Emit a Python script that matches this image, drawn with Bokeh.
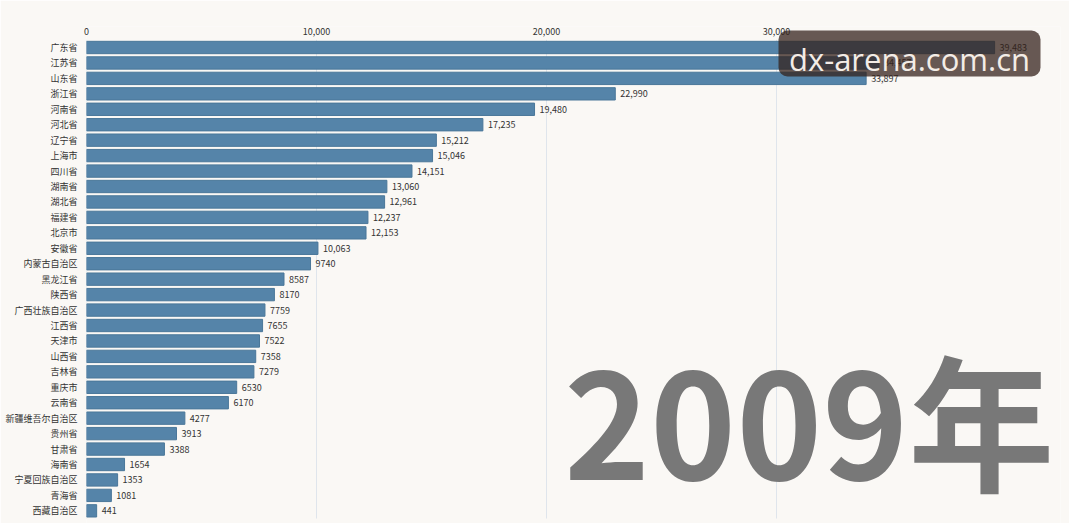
from bokeh.plotting import figure
from bokeh.models import (ColumnDataSource, Range1d, FixedTicker, Label,
                          NumeralTickFormatter, BoxAnnotation)
from bokeh.core.properties import value
from bokeh.embed import file_html
from bokeh.resources import INLINE

# 2009 GDP by province (亿元), largest first
provinces = ["广东省", "江苏省", "山东省", "浙江省", "河南省", "河北省", "辽宁省",
             "上海市", "四川省", "湖南省", "湖北省", "福建省", "北京市", "安徽省",
             "内蒙古自治区", "黑龙江省", "陕西省", "广西壮族自治区", "江西省",
             "天津市", "山西省", "吉林省", "重庆市", "云南省", "新疆维吾尔自治区",
             "贵州省", "甘肃省", "海南省", "宁夏回族自治区", "青海省", "西藏自治区"]
gdp = [39483, 34457, 33897, 22990, 19480, 17235, 15212,
       15046, 14151, 13060, 12961, 12237, 12153, 10063,
       9740, 8587, 8170, 7759, 7655,
       7522, 7358, 7279, 6530, 6170, 4277,
       3913, 3388, 1654, 1353, 1081, 441]
x_ticks = [0, 10000, 20000, 30000]
year_text = "2009年"

FONT = "Noto Sans CJK SC"
BG = "#faf8f5"
N = len(provinces)

rank = [i + 0.5 for i in range(N)]
labels = [f"{v:,}" if v >= 10000 else str(v) for v in gdp]
src = ColumnDataSource(dict(y=rank, gdp=gdp, label=labels, name=provinces))

# the frame reaches a little above the first row and down to the bottom edge
p = figure(width=1069, height=523, output_backend="svg", toolbar_location=None,
           x_axis_location="above",
           x_range=Range1d(0, 42348), y_range=Range1d(N + 0.32, -0.86),
           min_border_left=86, min_border_right=9, min_border_top=26,
           min_border_bottom=0)
p.background_fill_color = BG
p.border_fill_color = BG
p.outline_line_color = None
p.grid.visible = False

# vertical guides, only over the rows
p.segment(x0=x_ticks, x1=x_ticks, y0=[0] * len(x_ticks), y1=[N] * len(x_ticks),
          line_color="#dfe5ec", line_width=1)

p.hbar(y="y", right="gdp", left=0, height=0.8, source=src,
       fill_color="#5584a9", line_color="#4a7799", line_width=1)

p.text(x="gdp", y="y", text="label", source=src, x_offset=5,
       text_baseline="middle", text_align="left", text_font=value(FONT),
       text_font_size="9px", text_color="#333333")

# top value axis
xa = p.xaxis[0]
xa.ticker = FixedTicker(ticks=x_ticks)
xa.formatter = NumeralTickFormatter(format="0,0")
xa.axis_line_color = None
xa.major_tick_line_color = None
xa.minor_tick_line_color = None
xa.major_label_text_font = FONT
xa.major_label_text_font_size = "9px"
xa.major_label_text_color = "#333333"
xa.major_label_standoff = -14

# province axis
ya = p.yaxis[0]
ya.ticker = FixedTicker(ticks=rank)
ya.major_label_overrides = {r: n for r, n in zip(rank, provinces)}
ya.axis_line_color = None
ya.major_tick_line_color = None
ya.minor_tick_line_color = None
ya.major_label_text_font = FONT
ya.major_label_text_font_size = "9px"
ya.major_label_text_color = "#333333"
ya.major_label_standoff = 3

# large year caption
p.add_layout(Label(x=968, y=107, x_units="screen", y_units="screen",
                   text=year_text, text_align="right",
                   text_baseline="middle", text_font=FONT,
                   text_font_style="bold", text_font_size="146px",
                   text_line_height=1.0, text_color="#787878"))

# site badge
p.add_layout(BoxAnnotation(left=692, right=954, top=493, bottom=447,
                           left_units="screen", right_units="screen",
                           top_units="screen", bottom_units="screen",
                           fill_color="#33211a", fill_alpha=0.74,
                           line_color=None, border_radius=9))
p.add_layout(Label(x=823, y=486, x_units="screen", y_units="screen",
                   text="dx-arena.com.cn", text_align="center",
                   text_baseline="top", text_font="Open Sans",
                   text_font_size="31px", text_line_height=1.0,
                   text_color="#f3ece6"))

open("out.html", "w").write(file_html(p, INLINE))
